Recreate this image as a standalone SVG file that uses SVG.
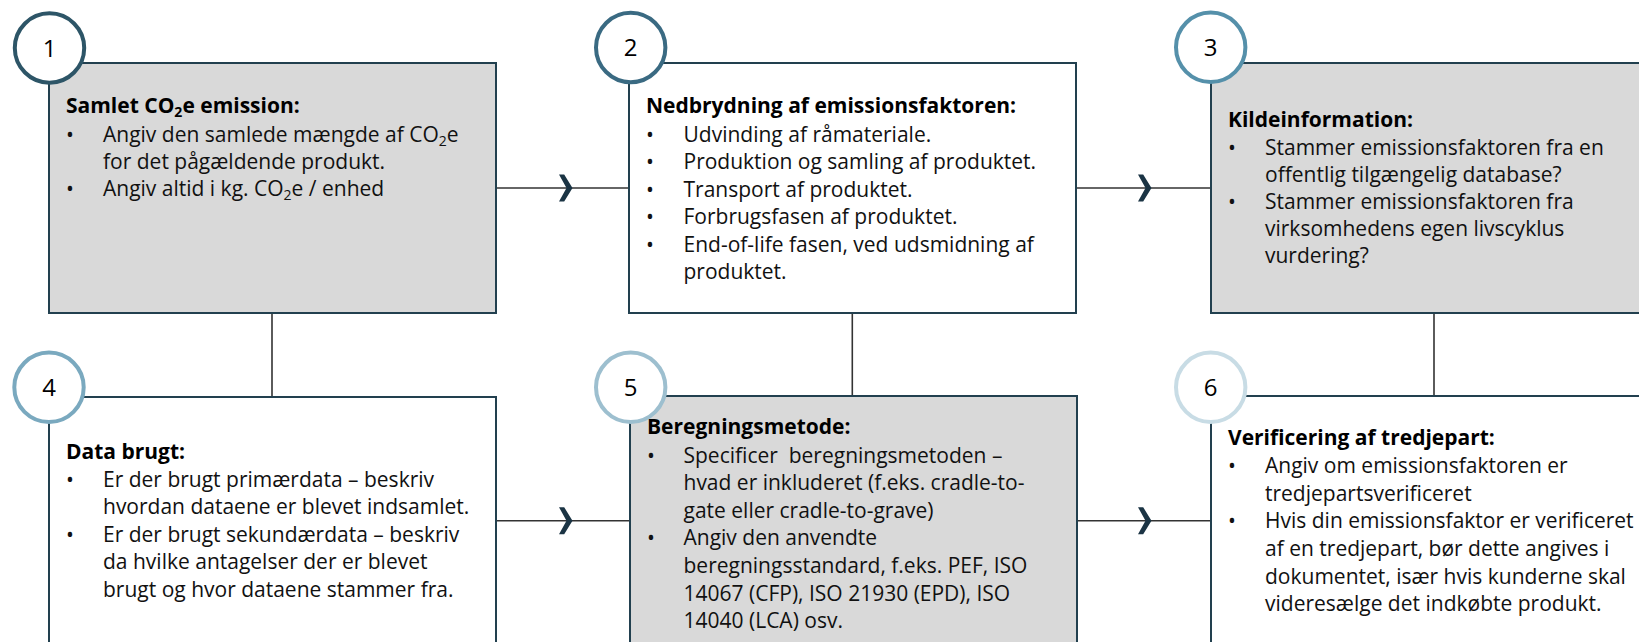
<svg xmlns="http://www.w3.org/2000/svg" width="1639" height="642" viewBox="0 0 1639 642">
<defs>
<style>
.box{stroke:#22404f;stroke-width:2}
.gray{fill:#d9d9d9}
.white{fill:#ffffff}
.ring{fill:#ffffff;stroke-width:4}
.num{font-family:"Open Sans","Liberation Sans",sans-serif;font-size:24px;fill:#000;text-anchor:middle}
.t{font-family:"Open Sans","Liberation Sans",sans-serif;font-size:21px;fill:#000;font-weight:700}
.b{font-family:"Open Sans","Liberation Sans",sans-serif;font-size:21px;fill:#111;white-space:pre}
.sub{font-size:14px}
.conn{fill:none;stroke:#333333;stroke-width:1.6}
</style>
<marker id="chev" markerUnits="userSpaceOnUse" viewBox="-16 -16 20 32" refX="-8" refY="0" markerWidth="20" markerHeight="32" orient="auto" style="overflow:visible">
<path d="M-13,-13.5 L-7.8,-13.5 L0.5,0 L-7.8,13.5 L-13,13.5 L-5.5,0 Z" fill="#1b3444"/>
</marker>
</defs>
<rect width="1639" height="642" fill="#ffffff"/>

<g id="connectors">
<path class="conn" d="M496,188 L564,188 L629,188" marker-mid="url(#chev)"/>
<path class="conn" d="M1076,188 L1143,188 L1211,188" marker-mid="url(#chev)"/>
<path class="conn" d="M496,520.7 L564,520.7 L630,520.7" marker-mid="url(#chev)"/>
<path class="conn" d="M1077,520.7 L1143,520.7 L1211,520.7" marker-mid="url(#chev)"/>
<path class="conn" d="M272,313 L272,397"/>
<path class="conn" d="M852.3,313 L852.3,396"/>
<path class="conn" d="M1434,313 L1434,396"/>
</g>

<g id="node1">
<rect class="box gray" x="49" y="63" width="447" height="250"/>
<circle class="ring" cx="49.5" cy="48" r="34.7" stroke="#2d5567"/>
<text class="num" x="49.5" y="56.5">1</text>
<text class="t" x="66" y="113.3">Samlet CO<tspan class="sub" dy="4">2</tspan><tspan dy="-4">e emission:</tspan></text>
<text class="b" x="66" y="141.5">•</text>
<text class="b" x="103" y="141.5">Angiv den samlede mængde af CO<tspan class="sub" dy="4">2</tspan><tspan dy="-4">e</tspan></text>
<text class="b" x="103" y="168.5">for det pågældende produkt.</text>
<text class="b" x="66" y="196">•</text>
<text class="b" x="103" y="196">Angiv altid i kg. CO<tspan class="sub" dy="4">2</tspan><tspan dy="-4">e / enhed</tspan></text>
</g>

<g id="node2">
<rect class="box white" x="629" y="63" width="447" height="250"/>
<circle class="ring" cx="630.7" cy="47.5" r="34.7" stroke="#3a6a82"/>
<text class="num" x="630.7" y="56">2</text>
<text class="t" x="646" y="113.3">Nedbrydning af emissionsfaktoren:</text>
<text class="b" x="646" y="141.5">•</text>
<text class="b" x="683.5" y="141.5">Udvinding af råmateriale.</text>
<text class="b" x="646" y="169">•</text>
<text class="b" x="683.5" y="169">Produktion og samling af produktet.</text>
<text class="b" x="646" y="196.5">•</text>
<text class="b" x="683.5" y="196.5">Transport af produktet.</text>
<text class="b" x="646" y="224">•</text>
<text class="b" x="683.5" y="224">Forbrugsfasen af produktet.</text>
<text class="b" x="646" y="251.5">•</text>
<text class="b" x="683.5" y="251.5">End-of-life fasen, ved udsmidning af</text>
<text class="b" x="683.5" y="279">produktet.</text>
</g>

<g id="node3">
<rect class="box gray" x="1211" y="63" width="460" height="250"/>
<circle class="ring" cx="1210.7" cy="47.3" r="34.7" stroke="#5590aa"/>
<text class="num" x="1210.7" y="56">3</text>
<text class="t" x="1228" y="127">Kildeinformation:</text>
<text class="b" x="1228" y="155">•</text>
<text class="b" x="1265" y="155">Stammer emissionsfaktoren fra en</text>
<text class="b" x="1265" y="182">offentlig tilgængelig database?</text>
<text class="b" x="1228" y="209">•</text>
<text class="b" x="1265" y="209">Stammer emissionsfaktoren fra</text>
<text class="b" x="1265" y="236">virksomhedens egen livscyklus</text>
<text class="b" x="1265" y="262.5">vurdering?</text>
</g>

<g id="node4">
<rect class="box white" x="49" y="397" width="447" height="260"/>
<circle class="ring" cx="49" cy="387.3" r="34.7" stroke="#7aa9bf"/>
<text class="num" x="49" y="396">4</text>
<text class="t" x="66" y="458.5">Data brugt:</text>
<text class="b" x="66" y="486.5">•</text>
<text class="b" x="103" y="486.5">Er der brugt primærdata – beskriv</text>
<text class="b" x="103" y="514">hvordan dataene er blevet indsamlet.</text>
<text class="b" x="66" y="541.5">•</text>
<text class="b" x="103" y="541.5">Er der brugt sekundærdata – beskriv</text>
<text class="b" x="103" y="569">da hvilke antagelser der er blevet</text>
<text class="b" x="103" y="597">brugt og hvor dataene stammer fra.</text>
</g>

<g id="node5">
<rect class="box gray" x="630" y="396" width="447" height="260"/>
<circle class="ring" cx="630.7" cy="387.3" r="34.7" stroke="#9dbfcf"/>
<text class="num" x="630.7" y="396">5</text>
<text class="t" x="647" y="434">Beregningsmetode:</text>
<text class="b" x="647" y="462.5">•</text>
<text class="b" x="683.5" y="462.5">Specificer  beregningsmetoden –</text>
<text class="b" x="683.5" y="490">hvad er inkluderet (f.eks. cradle-to-</text>
<text class="b" x="683.5" y="517.5">gate eller cradle-to-grave)</text>
<text class="b" x="647" y="545">•</text>
<text class="b" x="683.5" y="545">Angiv den anvendte</text>
<text class="b" x="683.5" y="573">beregningsstandard, f.eks. PEF, ISO</text>
<text class="b" x="683.5" y="600.5">14067 (CFP), ISO 21930 (EPD), ISO</text>
<text class="b" x="683.5" y="628">14040 (LCA) osv.</text>
</g>

<g id="node6">
<rect class="box white" x="1211" y="396" width="460" height="260"/>
<circle class="ring" cx="1210.7" cy="387.3" r="34.7" stroke="#c8dce5"/>
<text class="num" x="1210.7" y="396">6</text>
<text class="t" x="1228" y="445">Verificering af tredjepart:</text>
<text class="b" x="1228" y="473">•</text>
<text class="b" x="1265" y="473">Angiv om emissionsfaktoren er</text>
<text class="b" x="1265" y="500.5">tredjepartsverificeret</text>
<text class="b" x="1228" y="528">•</text>
<text class="b" x="1265" y="528">Hvis din emissionsfaktor er verificeret</text>
<text class="b" x="1265" y="555.5">af en tredjepart, bør dette angives i</text>
<text class="b" x="1265" y="583.5">dokumentet, især hvis kunderne skal</text>
<text class="b" x="1265" y="611">videresælge det indkøbte produkt.</text>
</g>
</svg>
